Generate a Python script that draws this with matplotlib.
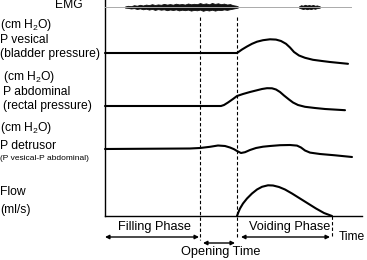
import matplotlib
matplotlib.use('Agg')
import matplotlib.pyplot as plt

plt.rcParams.update({
    'font.family': ['Liberation Sans', 'DejaVu Sans'],
    'mathtext.fontset': 'custom',
    'mathtext.rm': 'Liberation Sans',
    'font.size': 8.7,
})

# ── Trace data (time in px-like units along the time axis, value = screen row) ──
vesical_t = [105, 237, 242, 247, 252, 257, 263, 270, 276, 281, 286, 290, 294, 299, 305, 313, 322, 330, 340, 348]
vesical_y = [53, 53, 49.5, 46.5, 43.8, 41.7, 40.2, 39.3, 39.6, 41, 43.8, 47.5, 52, 55.5, 57.8, 59.8, 61, 62, 63, 63.8]

abdominal_t = [105, 221, 224, 228, 233, 237, 243, 250, 256, 262, 267, 272, 276, 280, 284, 289, 293, 298, 305, 315, 325, 335, 345]
abdominal_y = [106, 106, 105, 102.5, 99, 96, 94, 92, 90.5, 89, 88.2, 88.3, 89.5, 92, 95.5, 99.5, 102.5, 105, 106.8, 108, 109, 109.6, 110.2]

detrusor_t = [105, 190, 200, 210, 218, 225, 230, 234, 237, 241, 245, 250, 256, 263, 270, 280, 290, 297, 301, 305, 310, 320, 335, 352]
detrusor_y = [149, 148.5, 148, 146.8, 145.5, 146, 147.5, 149.2, 151, 153, 152.2, 150, 148, 146.7, 146, 145.2, 145, 145.6, 147.5, 150.5, 152.6, 154, 155.3, 157]

flow_t = [237, 238.5, 240, 243, 247, 252, 257, 262, 268, 273, 279, 285, 292, 300, 308, 316, 324, 332]
flow_y = [216, 212, 208.5, 203.5, 198.5, 193.5, 189.5, 186.8, 185.3, 185.5, 187, 189.5, 193.5, 198.5, 203.5, 208.5, 213, 216]

# EMG bursts: positions and half-thickness of the noisy band (upper / lower)
emg1_t = [125, 128, 131, 134, 137, 140, 143, 146, 149, 152, 155, 158, 161, 164, 167, 170,
          173, 176, 179, 182, 185, 188, 191, 194, 197, 200, 203, 206, 209, 212, 215, 218,
          221, 224, 227, 230, 233, 236, 238]
emg1_up = [0.5, 1.2, 0.8, 1.8, 1.3, 2.2, 1.5, 2.4, 1.9, 2.8, 2.0, 2.6, 2.2, 3.1, 2.4, 2.9,
           2.3, 3.3, 2.6, 3.0, 2.4, 3.5, 2.7, 3.2, 2.8, 3.9, 3.0, 3.6, 2.7, 4.0, 3.1, 3.7,
           2.8, 3.4, 2.5, 2.9, 1.8, 1.3, 0.5]
emg1_dn = [0.6, 0.9, 1.5, 1.1, 2.0, 1.4, 2.3, 1.7, 2.6, 1.9, 2.9, 2.1, 2.7, 2.3, 3.2, 2.5,
           3.0, 2.4, 3.4, 2.7, 3.2, 2.6, 3.6, 2.9, 3.3, 2.6, 3.8, 2.9, 3.5, 2.7, 3.6, 2.8,
           3.1, 2.4, 2.9, 2.2, 1.6, 1.0, 0.5]
emg2_t = [299, 301, 303, 305, 307, 309, 311, 313, 315, 317, 319, 320]
emg2_up = [0.6, 1.8, 1.3, 2.2, 1.5, 2.0, 1.4, 2.1, 1.2, 1.6, 0.9, 0.5]
emg2_dn = [0.7, 1.4, 2.0, 1.5, 2.2, 1.6, 2.1, 1.3, 1.8, 1.1, 0.8, 0.5]

EMG_Y = 7
FLOW_BASE = 216
T_OPEN = 200
T_VOID = 237
T_END = 332

fig = plt.figure(figsize=(3.67, 2.60), dpi=100)
ax = fig.add_axes([0, 0, 1, 1])
ax.set_xlim(0, 367)
ax.set_ylim(260, 0)
ax.axis('off')

# frame: vertical axis + time axis
ax.plot([105, 105], [0, FLOW_BASE], color='black', lw=1.0)
ax.plot([105, 362], [FLOW_BASE, FLOW_BASE], color='black', lw=1.0)

# EMG
ax.plot([105, 351], [EMG_Y, EMG_Y], color='#aaaaaa', lw=0.7)
for tt, up, dn in [(emg1_t, emg1_up, emg1_dn), (emg2_t, emg2_up, emg2_dn)]:
    ax.fill_between(tt, [EMG_Y - h for h in up], [EMG_Y + h for h in dn],
                    facecolor='#111111', edgecolor='#111111', lw=0.6)

# pressure and flow traces
for tt, yy in [(vesical_t, vesical_y), (abdominal_t, abdominal_y),
               (detrusor_t, detrusor_y), (flow_t, flow_y)]:
    ax.plot(tt, yy, color='black', lw=1.5, solid_capstyle='round', solid_joinstyle='round')

# dashed phase markers
dash = dict(color='black', lw=0.8, linestyle=(0, (3, 2)))
ax.plot([T_OPEN, T_OPEN], [17, 240], **dash)
ax.plot([T_VOID, T_VOID], [17, 237], **dash)
ax.plot([T_END, T_END], [FLOW_BASE, 237], **dash)

# phase arrows
arr = dict(arrowstyle='<|-|>', color='black', lw=1.0, mutation_scale=6,
           shrinkA=0, shrinkB=0)
ax.annotate('', xy=(105, 237), xytext=(199, 237), arrowprops=arr)
ax.annotate('', xy=(203, 243), xytext=(235, 243), arrowprops=arr)
ax.annotate('', xy=(241, 237), xytext=(330, 237), arrowprops=arr)

big = 9.2
ax.text(155, 227, 'Filling Phase', ha='center', va='center', fontsize=big)
ax.text(290, 227, 'Voiding Phase', ha='center', va='center', fontsize=big)
ax.text(221, 252, 'Opening Time', ha='center', va='center', fontsize=big)
ax.text(365, 237, 'Time', ha='right', va='center', fontsize=8.7)

# left labels
h2o = '(cm H$\\mathregular{_2}$O)'
ax.text(55, 4.5, 'EMG', ha='left', va='center')
ax.text(0, 25, h2o, ha='left', va='center')
ax.text(0, 40, 'P vesical', ha='left', va='center')
ax.text(0, 54, '(bladder pressure)', ha='left', va='center')
ax.text(3, 77, h2o, ha='left', va='center')
ax.text(3, 92, 'P abdominal', ha='left', va='center')
ax.text(3, 106, '(rectal pressure)', ha='left', va='center')
ax.text(0, 128, h2o, ha='left', va='center')
ax.text(0, 146, 'P detrusor', ha='left', va='center')
ax.text(0, 159, '(P vesical-P abdominal)', ha='left', va='center', fontsize=6.0)
ax.text(0, 192, 'Flow', ha='left', va='center')
ax.text(0, 210, '(ml/s)', ha='left', va='center')

fig.savefig('out.png', dpi=100)
